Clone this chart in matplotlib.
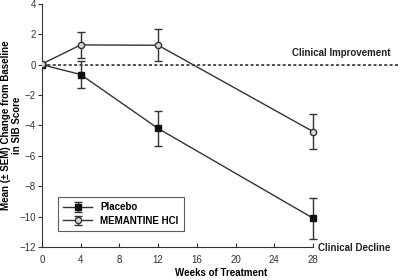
import matplotlib
matplotlib.use('Agg')
import matplotlib.pyplot as plt

weeks = [0, 4, 12, 28]
placebo = [0.0, -0.65, -4.2, -10.1]
placebo_sem = [0.0, 0.9, 1.15, 1.35]
memantine = [0.05, 1.3, 1.28, -4.4]
memantine_sem = [0.0, 0.88, 1.05, 1.15]

plt.rcParams['font.family'] = ['Liberation Sans', 'DejaVu Sans']
narrow = ['Liberation Sans Narrow', 'Liberation Sans', 'DejaVu Sans']

fig = plt.figure(figsize=(4, 2.8), dpi=100)
ax = fig.add_axes([0.105, 0.118, 0.895, 0.868])

line_col = '#333333'

ax.axhline(0, color='#222222', linestyle=(0, (2, 1.5)), linewidth=1.1, zorder=1)

ax.errorbar(weeks, placebo, yerr=placebo_sem, color=line_col, linewidth=1,
            marker='s', markersize=4, markerfacecolor='#111111',
            markeredgecolor='#111111', capsize=3, elinewidth=1,
            label='Placebo', zorder=3)
ax.errorbar(weeks, memantine, yerr=memantine_sem, color=line_col, linewidth=1,
            marker='o', markersize=4.5, markerfacecolor='#d8d8d8',
            markeredgecolor='#333333', capsize=3, elinewidth=1,
            label='MEMANTINE HCl', zorder=3)

ax.set_xlim(0, 37)
ax.set_ylim(-12, 4)
ax.set_xticks([0, 4, 8, 12, 16, 20, 24, 28])
ax.set_yticks([-12, -10, -8, -6, -4, -2, 0, 2, 4])
ax.spines['top'].set_visible(False)
ax.spines['right'].set_visible(False)
ax.spines['bottom'].set_bounds(0, 28)
ax.spines['left'].set_color('#333333')
ax.spines['bottom'].set_color('#333333')
ax.tick_params(axis='x', direction='in', length=3, labelsize=7, colors='#333333', pad=6)
ax.tick_params(axis='y', direction='out', length=3, labelsize=7, colors='#333333', pad=1.5)
for lab in ax.get_xticklabels() + ax.get_yticklabels():
    lab.set_family(narrow)

ax.set_xlabel('Weeks of Treatment', fontsize=7, fontweight='bold', labelpad=2)
ax.set_ylabel('Mean (\u00b1 SEM) Change from Baseline\nin SIB Score', fontsize=7,
              fontweight='bold', linespacing=1.1)
ax.yaxis.set_label_coords(-0.056, 0.5)

ax.text(36.0, 0.45, 'Clinical Improvement', fontsize=7, fontweight='bold',
        ha='right', va='bottom', color='#222222')
ax.text(36.0, -12.1, 'Clinical Decline', fontsize=7, fontweight='bold',
        ha='right', va='center', color='#222222')

leg = ax.legend(loc='lower left', bbox_to_anchor=(0.03, 0.045),
                frameon=True, fancybox=False, edgecolor='#333333',
                handlelength=3, borderpad=0.55, labelspacing=0.35,
                prop={'weight': 'bold', 'size': 7})
leg.get_frame().set_linewidth(0.8)

fig.savefig('out.png', dpi=100)
